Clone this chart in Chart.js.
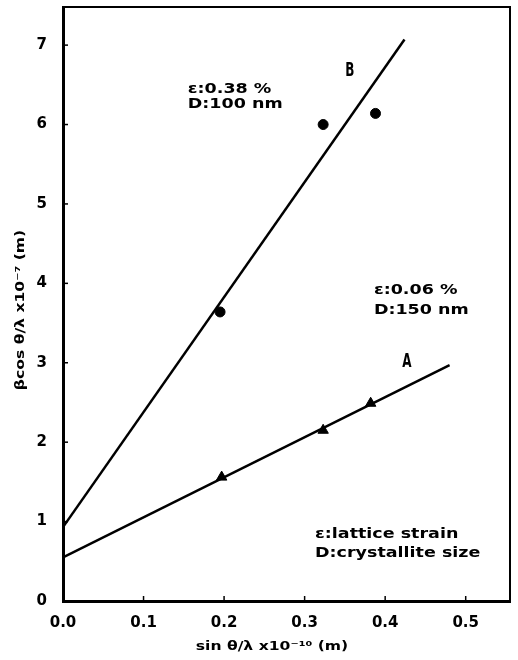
<!DOCTYPE html>
<html>
<head>
<meta charset="utf-8">
<style>
  html, body { margin: 0; padding: 0; background: #fff; }
  #wrap { width: 518px; height: 660px; position: relative; }
</style>
</head>
<body>
<div id="wrap"><canvas id="chart"></canvas></div>
<script src="https://cdn.jsdelivr.net/npm/chart.js@4.4.1/dist/chart.umd.min.js"></script>
<script>
// measured points (sample B: circles, sample A: triangles)
const bX = [0.195, 0.323, 0.388];
const bY = [3.64, 6.0, 6.14];
const aX = [0.197, 0.323, 0.382];
const aY = [1.56, 2.15, 2.49];

// fitted Williamson-Hall lines, end points
const fitBX = [0, 0.424];
const fitBY = [0.93, 7.07];
const fitAX = [0, 0.48];
const fitAY = [0.55, 2.97];

const xTicks = [0, 0.1, 0.2, 0.3, 0.4, 0.5];
const yTicks = [0, 1, 2, 3, 4, 5, 6, 7];

const FONT = "'DejaVu Sans', sans-serif";

const toPoints = (xs, ys) => xs.map((x, i) => ({ x: x, y: ys[i] }));

function wideText(ctx, text, x, y, sx, align) {
    ctx.save();
    ctx.translate(x, y);
    ctx.scale(sx, 1);
    ctx.textAlign = align || "left";
    ctx.fillText(text, 0, 0);
    ctx.restore();
}

const frame = {
    id: "frame",
    afterDraw(chart) {
        const ctx = chart.ctx;
        const area = chart.chartArea;
        const xs = chart.scales.x;
        const ys = chart.scales.y;

        ctx.save();
        ctx.strokeStyle = "#000";
        ctx.fillStyle = "#000";

        // top and right edges of the box
        ctx.lineWidth = 2;
        ctx.beginPath();
        ctx.moveTo(area.left, area.top);
        ctx.lineTo(area.right, area.top);
        ctx.lineTo(area.right, area.bottom);
        ctx.stroke();

        // inward tick marks
        ctx.lineWidth = 1.5;
        xTicks.forEach((v) => {
            const px = xs.getPixelForValue(v);
            ctx.beginPath();
            ctx.moveTo(px, area.bottom);
            ctx.lineTo(px, area.bottom - 5);
            ctx.stroke();
        });
        yTicks.forEach((v) => {
            const py = ys.getPixelForValue(v);
            ctx.beginPath();
            ctx.moveTo(area.left, py);
            ctx.lineTo(area.left + 5, py);
            ctx.stroke();
        });

        ctx.textBaseline = "middle";

        // annotations
        ctx.font = "bold 14px " + FONT;
        const note = (text, x, y) =>
            wideText(ctx, text, xs.getPixelForValue(x), ys.getPixelForValue(y), 1.25);
        note("ε:0.38 %", 0.155, 6.44);
        note("D:100 nm", 0.155, 6.26);
        note("ε:0.06 %", 0.386, 3.91);
        note("D:150 nm", 0.386, 3.66);
        note("ε:lattice strain", 0.313, 0.84);
        note("D:crystallite size", 0.313, 0.6);

        ctx.font = "bold 20px " + FONT;
        wideText(ctx, "B", xs.getPixelForValue(0.356), ys.getPixelForValue(6.68), 0.6, "center");
        wideText(ctx, "A", xs.getPixelForValue(0.427), ys.getPixelForValue(3.01), 0.6, "center");

        // axis titles
        ctx.font = "bold 13px " + FONT;
        wideText(ctx, "sin θ/λ x10⁻¹⁰ (m)", 272, 647, 1.2, "center");
        ctx.translate(21, 310);
        ctx.rotate(-Math.PI / 2);
        wideText(ctx, "βcos θ/λ x10⁻⁷ (m)", 0, 0, 1.2, "center");

        ctx.restore();
    },
};

new Chart(document.getElementById("chart"), {
    type: "scatter",
    data: {
        datasets: [
            {
                data: toPoints(bX, bY),
                pointStyle: "circle",
                pointRadius: 5,
                backgroundColor: "#000",
                borderColor: "#000",
            },
            {
                data: toPoints(aX, aY),
                pointStyle: "triangle",
                pointRadius: 6,
                backgroundColor: "#000",
                borderColor: "#000",
            },
            {
                data: toPoints(fitBX, fitBY),
                showLine: true,
                pointRadius: 0,
                borderWidth: 2.5,
                borderColor: "#000",
            },
            {
                data: toPoints(fitAX, fitAY),
                showLine: true,
                pointRadius: 0,
                borderWidth: 2.5,
                borderColor: "#000",
            },
        ],
    },
    options: {
        responsive: true,
        maintainAspectRatio: false,
        animation: false,
        layout: { padding: { top: 6, right: 8, left: 0, bottom: 0 } },
        plugins: {
            legend: { display: false },
            tooltip: { enabled: false },
        },
        scales: {
            x: {
                type: "linear",
                min: 0,
                max: 0.555,
                afterFit: (s) => {
                    s.height = 59;
                    s.paddingLeft = 0;
                    s.paddingRight = 0;
                },
                afterBuildTicks: (s) => { s.ticks = xTicks.map((v) => ({ value: v })); },
                grid: { display: false },
                border: { display: true, width: 3, color: "#000" },
                ticks: {
                    color: "#000",
                    padding: 5,
                    maxRotation: 0,
                    font: { family: FONT, size: 15, weight: "bold" },
                    callback: (v) => Number(v).toFixed(1),
                },
            },
            y: {
                type: "linear",
                min: 0,
                max: 7.48,
                afterFit: (s) => {
                    s.width = 63;
                    s.paddingTop = 0;
                    s.paddingBottom = 0;
                },
                afterBuildTicks: (s) => { s.ticks = yTicks.map((v) => ({ value: v })); },
                grid: { display: false },
                border: { display: true, width: 3, color: "#000" },
                ticks: {
                    color: "#000",
                    padding: 8,
                    font: { family: FONT, size: 15, weight: "bold" },
                    callback: (v) => String(v),
                },
            },
        },
    },
    plugins: [frame],
});
</script>
</body>
</html>
